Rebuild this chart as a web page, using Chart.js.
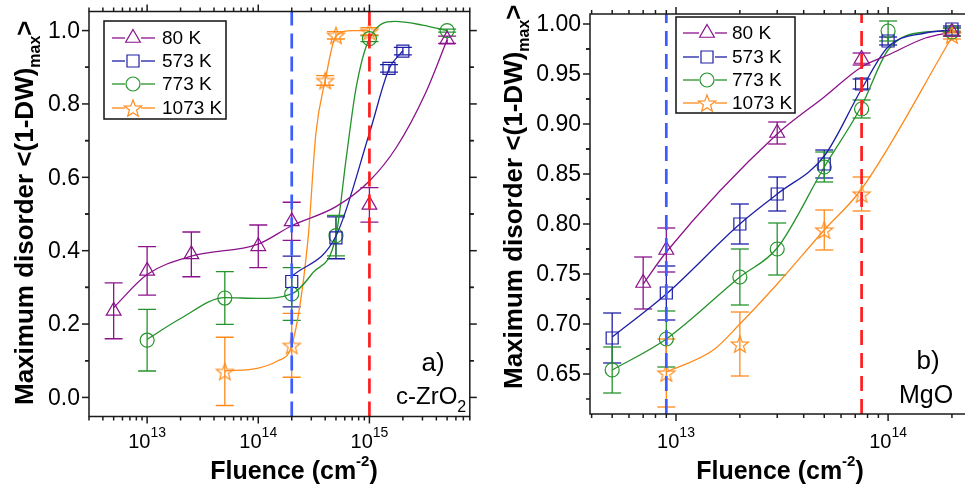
<!DOCTYPE html>
<html>
<head>
<meta charset="utf-8">
<script src="https://cdn.jsdelivr.net/npm/chart.js@4.4.1/dist/chart.umd.min.js"></script>
<style>
  html, body { margin: 0; padding: 0; background: #fff; overflow: hidden; width: 965px; height: 489px; }
  canvas { position: absolute; top: 0; }
</style>
</head>
<body>
<canvas id="painelA" width="480" height="489" style="left:0"></canvas>
<canvas id="painelB" width="505" height="489" style="left:480px"></canvas>
<script>
// ── Dados ────────────────────────────────────────────────────────────
const temperaturas = ['80 K', '573 K', '773 K', '1073 K'];

// a) c-ZrO2
const zrFluencia80  = [5e12, 1e13, 2.5e13, 1e14, 2e14, 1e15, 5e15];
const zrDesordem80  = [0.236, 0.345, 0.39, 0.412, 0.48, 0.525, 0.975];
const zrErro80      = [0.076, 0.066, 0.061, 0.058, 0.052, 0.047, 0.01];
const zrFluencia573 = [2e14, 5e14, 1.5e15, 2e15];
const zrDesordem573 = [0.316, 0.435, 0.897, 0.944];
const zrErro573     = [0.069, 0.057, 0.01, 0.01];
const zrFluencia773 = [1e13, 5e13, 2e14, 5e14, 1e15, 5e15];
const zrDesordem773 = [0.156, 0.271, 0.282, 0.441, 0.978, 1.0];
const zrErro773     = [0.084, 0.072, 0.072, 0.055, 0.008, 0.004];
const zrFluencia1073 = [5e13, 2e14, 4e14, 5e14, 1e15];
const zrDesordem1073 = [0.071, 0.142, 0.864, 0.987, 0.998];
const zrErro1073     = [0.093, 0.087, 0.013, 0.01, 0.01];

const zrCurva80X   = [5e12, 1e13, 2.5e13, 1e14, 2e14, 5e14, 1e15, 1.75e15, 3.2e15, 5e15];
const zrCurva80Y   = [0.245, 0.335, 0.385, 0.418, 0.468, 0.52, 0.59, 0.682, 0.83, 0.975];
const zrCurva573X  = [2e14, 5e14, 1e15, 1.5e15, 2e15];
const zrCurva573Y  = [0.33, 0.44, 0.72, 0.895, 0.945];
const zrCurva773X  = [1e13, 2e13, 5e13, 1e14, 2e14, 3.1e14, 5e14, 6.2e14, 7.6e14, 1e15, 1.7e15, 3e15, 5e15];
const zrCurva773Y  = [0.158, 0.215, 0.272, 0.27, 0.282, 0.34, 0.44, 0.655, 0.845, 0.978, 1.025, 1.015, 1.0];
const zrCurva1073X = [5e13, 1e14, 1.5e14, 2e14, 2.8e14, 3.3e14, 4e14, 5e14, 7e14, 1e15];
const zrCurva1073Y = [0.072, 0.08, 0.1, 0.142, 0.43, 0.72, 0.864, 0.985, 1.0, 1.0];

const zrLimites  = [2e14, 1e15];
const zrTicksY   = ['0.0', '0.2', '0.4', '0.6', '0.8', '1.0'];
const zrExpX     = ['13', '14', '15'];

// b) MgO
const mgFluencia80  = [7e12, 9e12, 3e13, 7.5e13, 2e14];
const mgDesordem80  = [0.741, 0.774, 0.891, 0.965, 0.992];
const mgErro80      = [0.026, 0.022, 0.011, 0.006, 0.004];
const mgFluencia573 = [5e12, 9e12, 2e13, 3e13, 5e13, 7.5e13, 1e14, 2e14];
const mgDesordem573 = [0.686, 0.731, 0.80, 0.83, 0.86, 0.94, 0.983, 0.995];
const mgErro573     = [0.025, 0.027, 0.02, 0.017, 0.014, 0.005, 0.004, 0.003];
const mgFluencia773 = [5e12, 9e12, 2e13, 3e13, 5e13, 7.5e13, 1e14, 2e14];
const mgDesordem773 = [0.654, 0.685, 0.747, 0.775, 0.857, 0.915, 0.993, 0.992];
const mgErro773     = [0.023, 0.028, 0.028, 0.026, 0.015, 0.009, 0.01, 0.004];
const mgFluencia1073 = [9e12, 2e13, 5e13, 7.5e13, 2e14];
const mgDesordem1073 = [0.651, 0.68, 0.794, 0.83, 0.989];
const mgErro1073     = [0.034, 0.032, 0.02, 0.017, 0.004];

const mgCurva80X   = [7e12, 9e12, 3e13, 5e13, 7.5e13, 1e14, 1.5e14, 2e14];
const mgCurva80Y   = [0.74, 0.772, 0.89, 0.927, 0.957, 0.969, 0.986, 0.992];
const mgCurva573X  = [5e12, 9e12, 2e13, 3e13, 5e13, 7.5e13, 1e14, 1.5e14, 2e14];
const mgCurva573Y  = [0.687, 0.73, 0.80, 0.83, 0.868, 0.935, 0.977, 0.991, 0.994];
const mgCurva773X  = [5e12, 9e12, 2e13, 3e13, 5e13, 7.5e13, 1e14, 1.5e14, 2e14];
const mgCurva773Y  = [0.654, 0.685, 0.747, 0.776, 0.857, 0.918, 0.974, 0.992, 0.993];
const mgCurva1073X = [9e12, 1.5e13, 2e13, 3e13, 5e13, 7.5e13, 2e14];
const mgCurva1073Y = [0.652, 0.674, 0.70, 0.74, 0.794, 0.835, 0.987];

const mgLimites = [9e12, 7.5e13];
const mgTicksY  = ['0.65', '0.70', '0.75', '0.80', '0.85', '0.90', '0.95', '1.00'];
const mgExpX    = ['13', '14'];

// ── Estilos ───────────────────────────────────────────────────────────
const COR_80   = '#8B128B';
const COR_573  = '#1E1EA6';
const COR_773  = '#25932B';
const COR_1073 = '#FF8A1A';
const COR_AZUL = '#3D5CFF';
const COR_VERM = '#FF1E1E';
const FONTE    = '"Liberation Sans", Arial, sans-serif';

// estrela de 5 pontas (o Chart.js não tem uma vazada)
function criarEstrela(cor, r) {
    const c = document.createElement('canvas');
    const s = Math.ceil(r * 2 + 4);
    c.width = s; c.height = s;
    const g = c.getContext('2d');
    g.translate(s / 2, s / 2 + r * 0.1);
    g.beginPath();
    for (let i = 0; i < 10; i++) {
        const rr = i % 2 === 0 ? r : r * 0.42;
        const ang = -Math.PI / 2 + i * Math.PI / 5;
        g.lineTo(rr * Math.cos(ang), rr * Math.sin(ang));
    }
    g.closePath();
    g.strokeStyle = cor; g.lineWidth = 1.2;
    g.stroke();
    return c;
}
const ESTRELA = criarEstrela(COR_1073, 9);

const estilos = [
    { cor: COR_80,   ponto: 'triangle', raio: 8.5 },
    { cor: COR_573,  ponto: 'rect',     raio: 8.5 },
    { cor: COR_773,  ponto: 'circle',   raio: 7 },
    { cor: COR_1073, ponto: ESTRELA,    raio: 9 },
];

function pares(xs, ys) { return xs.map((x, i) => ({ x: x, y: ys[i] })); }

function linha(ctx, x1, y1, x2, y2) {
    ctx.beginPath(); ctx.moveTo(x1, y1); ctx.lineTo(x2, y2); ctx.stroke();
}

function montarPainel(id, p) {
    const datasets = [];
    // linhas tracejadas verticais (ficam por cima)
    p.limites.forEach((lim, i) => {
        datasets.push({
            data: [{ x: lim, y: p.yMin }, { x: lim, y: p.yMax }],
            showLine: true, pointRadius: 0,
            borderColor: i === 0 ? COR_AZUL : COR_VERM,
            borderWidth: 2.7, borderDash: [15, 8]
        });
    });
    p.series.forEach((s, i) => {
        const e = estilos[i];
        datasets.push({
            data: pares(s.x, s.y),
            showLine: false,
            pointStyle: e.ponto, pointRadius: e.raio,
            pointBorderColor: e.cor, pointBackgroundColor: 'rgba(0,0,0,0)',
            pointBorderWidth: 1.2
        });
    });
    p.series.forEach((s, i) => {
        datasets.push({
            data: pares(s.cx, s.cy),
            showLine: true, pointRadius: 0,
            borderColor: estilos[i].cor, borderWidth: 1.3,
            cubicInterpolationMode: 'monotone'
        });
    });

    const plugEixos = {
        id: 'eixos',
        beforeDatasetsDraw(chart) {
            // barras de erro
            const { ctx, chartArea: a, scales: { x, y } } = chart;
            ctx.save();
            ctx.beginPath(); ctx.rect(a.left, a.top, a.right - a.left, a.bottom - a.top); ctx.clip();
            ctx.lineWidth = 1.3;
            p.series.forEach((s, i) => {
                ctx.strokeStyle = estilos[i].cor;
                s.x.forEach((fx, k) => {
                    const px = x.getPixelForValue(fx);
                    const yt = y.getPixelForValue(s.y[k] + s.err[k]);
                    const yb = y.getPixelForValue(s.y[k] - s.err[k]);
                    linha(ctx, px, yt, px, yb);
                    linha(ctx, px - 9, yt, px + 9, yt);
                    linha(ctx, px - 9, yb, px + 9, yb);
                });
            });
            ctx.restore();
        },
        afterDraw(chart) {
            const { ctx, chartArea: a, scales: { x, y } } = chart;
            ctx.save();
            ctx.strokeStyle = '#1a1a1a';
            ctx.fillStyle = '#000';
            ctx.lineWidth = 1.5;
            ctx.strokeRect(a.left, a.top, a.right - a.left, a.bottom - a.top);

            // eixo y
            ctx.font = '23px ' + FONTE;
            ctx.textAlign = 'right'; ctx.textBaseline = 'middle';
            p.ticksY.forEach((t) => {
                const py = y.getPixelForValue(parseFloat(t));
                linha(ctx, a.left - 7, py, a.left, py);
                linha(ctx, a.right, py, a.right + 7, py);
                ctx.fillText(t, a.left - 9, py + 1);
            });
            for (let i = 0; i < p.ticksY.length; i++) {
                const v = parseFloat(p.ticksY[i]) + p.passoY / 2;
                const v0 = parseFloat(p.ticksY[i]) - p.passoY / 2;
                [v, v0].forEach((m) => {
                    if (m < p.yMin || m > p.yMax) return;
                    const py = y.getPixelForValue(m);
                    linha(ctx, a.left - 4, py, a.left, py);
                    linha(ctx, a.right, py, a.right + 4, py);
                });
            }

            // eixo x (log)
            const eMin = Math.floor(Math.log10(p.xMin)), eMax = Math.ceil(Math.log10(p.xMax));
            for (let e = eMin; e <= eMax; e++) {
                for (let m = 1; m <= 9; m++) {
                    const v = m * Math.pow(10, e);
                    if (v < p.xMin * 0.999 || v > p.xMax) continue;
                    const px = x.getPixelForValue(v);
                    const len = m === 1 ? 7 : 4;
                    linha(ctx, px, a.bottom, px, a.bottom + len);
                    linha(ctx, px, a.top - len, px, a.top);
                }
            }
            p.expX.forEach((ex) => {
                const px = x.getPixelForValue(Math.pow(10, parseInt(ex)));
                ctx.font = '20px ' + FONTE;
                const w1 = ctx.measureText('10').width;
                ctx.font = '14px ' + FONTE;
                const w2 = ctx.measureText(ex).width;
                const x0 = px - (w1 + w2) / 2;
                ctx.textAlign = 'left'; ctx.textBaseline = 'alphabetic';
                ctx.font = '20px ' + FONTE;
                ctx.fillText('10', x0, 448);
                ctx.font = '14px ' + FONTE;
                ctx.fillText(ex, x0 + w1, 437);
            });

            // título do eixo x
            ctx.font = 'bold 25px ' + FONTE;
            const t1 = 'Fluence (cm', t3 = ')';
            const wa = ctx.measureText(t1).width, wc = ctx.measureText(t3).width;
            ctx.font = 'bold 15px ' + FONTE;
            const wb = ctx.measureText('-2').width;
            let xt = p.tituloX - (wa + wb + wc) / 2;
            ctx.textAlign = 'left';
            ctx.font = 'bold 25px ' + FONTE; ctx.fillText(t1, xt, 479);
            ctx.font = 'bold 15px ' + FONTE; ctx.fillText('-2', xt + wa, 466);
            ctx.font = 'bold 25px ' + FONTE; ctx.fillText(t3, xt + wa + wb, 479);

            // título do eixo y (girado)
            ctx.save();
            ctx.translate(p.tituloYx, p.tituloYy);
            ctx.rotate(-Math.PI / 2);
            ctx.font = 'bold 26px ' + FONTE;
            const m1 = 'Maximum disorder <(1-DW)';
            ctx.fillText(m1, 0, 0);
            const w1 = ctx.measureText(m1).width;
            ctx.font = 'bold 16px ' + FONTE;
            ctx.fillText('max', w1, 7);
            const w2 = ctx.measureText('max').width;
            ctx.font = 'bold 26px ' + FONTE;
            ctx.fillText('>', w1 + w2, 0);
            ctx.restore();

            // anotações do painel
            ctx.font = '26px ' + FONTE;
            ctx.textAlign = 'center';
            ctx.fillText(p.letra, p.letraX, p.letraY);
            ctx.textAlign = 'left';
            ctx.font = p.matFonte + 'px ' + FONTE;
            ctx.fillText(p.material, p.matX, p.matY);
            if (p.materialSub) {
                const wm = ctx.measureText(p.material).width;
                ctx.font = '16px ' + FONTE;
                ctx.fillText(p.materialSub, p.matX + wm, p.matY + 8);
            }

            // legenda
            const L = p.legenda;
            ctx.lineWidth = 1.5; ctx.strokeStyle = '#111';
            ctx.strokeRect(L.x0, L.y0, L.x1 - L.x0, L.y1 - L.y0);
            temperaturas.forEach((t, i) => {
                const e = estilos[i], yy = L.linhas[i];
                ctx.strokeStyle = e.cor; ctx.lineWidth = 1.3;
                const gap = 8;
                linha(ctx, L.lx0, yy, L.mx - gap, yy);
                linha(ctx, L.mx + gap, yy, L.lx1, yy);
                ctx.fillStyle = 'rgba(0,0,0,0)';
                ctx.lineWidth = 1.2;
                Chart.helpers.drawPoint(ctx, { pointStyle: e.ponto, radius: e.raio, rotation: 0, borderWidth: 1.2 }, L.mx, yy);
                ctx.fillStyle = '#000';
                ctx.font = '19px ' + FONTE;
                ctx.textAlign = 'left'; ctx.textBaseline = 'middle';
                ctx.fillText(t, L.tx, yy + 1);
                ctx.textBaseline = 'alphabetic';
            });
            ctx.restore();
        }
    };

    return new Chart(document.getElementById(id), {
        type: 'scatter',
        data: { datasets: datasets },
        options: {
            responsive: false,
            animation: false,
            events: [],
            layout: { padding: p.padding },
            plugins: { legend: { display: false }, tooltip: { enabled: false } },
            scales: {
                x: { type: 'logarithmic', min: p.xMin, max: p.xMax, display: false },
                y: { type: 'linear', min: p.yMin, max: p.yMax, display: false }
            }
        },
        plugins: [plugEixos]
    });
}

montarPainel('painelA', {
    series: [
        { x: zrFluencia80,   y: zrDesordem80,   err: zrErro80,   cx: zrCurva80X,   cy: zrCurva80Y },
        { x: zrFluencia573,  y: zrDesordem573,  err: zrErro573,  cx: zrCurva573X,  cy: zrCurva573Y },
        { x: zrFluencia773,  y: zrDesordem773,  err: zrErro773,  cx: zrCurva773X,  cy: zrCurva773Y },
        { x: zrFluencia1073, y: zrDesordem1073, err: zrErro1073, cx: zrCurva1073X, cy: zrCurva1073Y },
    ],
    limites: zrLimites,
    xMin: 3e12, xMax: 8e15, yMin: -0.052, yMax: 1.052,
    ticksY: zrTicksY, passoY: 0.2, expX: zrExpX,
    padding: { left: 89, right: 5.4, top: 11.5, bottom: 72.5 },
    tituloX: 294, tituloYx: 33, tituloYy: 405,
    letra: 'a)', letraX: 433, letraY: 371,
    material: 'c-ZrO', matFonte: 24, materialSub: '2', matX: 396, matY: 404,
    legenda: { x0: 104, y0: 21, x1: 226, y1: 119, linhas: [38, 61, 84, 108], lx0: 112, lx1: 155, mx: 133, tx: 162 }
});

montarPainel('painelB', {
    series: [
        { x: mgFluencia80,   y: mgDesordem80,   err: mgErro80,   cx: mgCurva80X,   cy: mgCurva80Y },
        { x: mgFluencia573,  y: mgDesordem573,  err: mgErro573,  cx: mgCurva573X,  cy: mgCurva573Y },
        { x: mgFluencia773,  y: mgDesordem773,  err: mgErro773,  cx: mgCurva773X,  cy: mgCurva773Y },
        { x: mgFluencia1073, y: mgDesordem1073, err: mgErro1073, cx: mgCurva1073X, cy: mgCurva1073Y },
    ],
    limites: mgLimites,
    xMin: 3.93e12, xMax: 2.46e14, yMin: 0.61, yMax: 1.01,
    ticksY: mgTicksY, passoY: 0.05, expX: mgExpX,
    padding: { left: 110, right: 14, top: 14, bottom: 75 },
    tituloX: 300, tituloYx: 42, tituloYy: 389,
    letra: 'b)', letraX: 448, letraY: 369,
    material: 'MgO', matFonte: 25, materialSub: '', matX: 419, matY: 403,
    legenda: { x0: 196, y0: 17, x1: 315, y1: 113, linhas: [33, 57, 80, 103], lx0: 203, lx1: 247, mx: 227, tx: 252 }
});
</script>
</body>
</html>
